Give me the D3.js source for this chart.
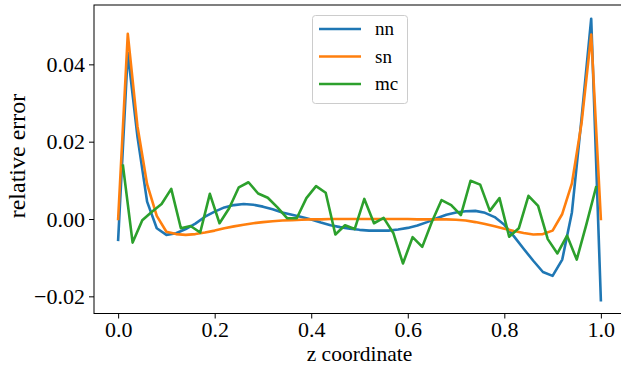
<!DOCTYPE html>
<html>
<head>
<meta charset="utf-8">
<script src="https://cdn.jsdelivr.net/npm/d3@7"></script>
<style>
  body { margin: 0; background: #fff; }
  svg text { font-family: "Liberation Serif", "Times New Roman", serif; fill: #000; }
</style>
</head>
<body>
<svg id="chart" width="621" height="368"></svg>
<script>
// node positions (0.02 grid) and cell centres for the mc samples
const zNodes = d3.range(51).map((i) => +(i * 0.02).toFixed(2));
const zCells = d3.range(50).map((i) => +(0.01 + i * 0.02).toFixed(2));

const nnValues = [
  -0.0054, 0.043, 0.0213, 0.0045, -0.0024, -0.0041, -0.0037, -0.0026, -0.0012, 0.0006,
  0.0019, 0.003, 0.0036, 0.0039, 0.0037, 0.0032, 0.0025, 0.0017, 0.0011, 0.0005,
  -0.0001, -0.0009, -0.0016, -0.0021, -0.0025, -0.0028, -0.003, -0.003, -0.003, -0.0027,
  -0.0023, -0.0017, -0.0008, 0.0002, 0.0011, 0.0017, 0.002, 0.0021, 0.0016, 0.0005,
  -0.0015, -0.0045, -0.0077, -0.0108, -0.0137, -0.0147, -0.0105, 0.0017, 0.026, 0.0518,
  -0.021,
];

const snValues = [
  0.0, 0.0479, 0.024, 0.009, 0.0008, -0.0033, -0.0039, -0.0041, -0.0039, -0.0035,
  -0.003, -0.0024, -0.0019, -0.0015, -0.0011, -0.0008, -0.0006, -0.0004, -0.0003, -0.0002,
  -0.0001, -0.0001, 0.0, 0.0, 0.0, 0.0, 0.0, 0.0, 0.0, 0.0,
  0.0, -0.0001, -0.0001, -0.0001, -0.0001, -0.0002, -0.0004, -0.0008, -0.0013, -0.0019,
  -0.0025, -0.0031, -0.0036, -0.004, -0.0039, -0.003, 0.0013, 0.0092, 0.0248, 0.0477,
  0.0,
];

const mcValues = [
  0.0138, -0.0061, -0.0003, 0.0019, 0.0039, 0.0078, -0.0024, -0.0018, -0.0035, 0.0065,
  -0.0011, 0.0028, 0.0082, 0.0095, 0.0066, 0.0055, 0.003, 0.0002, 0.0002, 0.0054,
  0.0085, 0.0068, -0.004, -0.0016, -0.0026, 0.0052, -0.0011, 0.0003, -0.0036, -0.0115,
  -0.0047, -0.0072, -0.0007, 0.0049, 0.0036, 0.001, 0.0099, 0.0089, 0.0021, 0.0054,
  -0.0046, -0.0024, 0.006, 0.0034, -0.0052, -0.0089, -0.0043, -0.0105, -0.0014, 0.0082,
];

const xTicks = [0, 0.2, 0.4, 0.6, 0.8, 1.0];
const yTicks = [-0.02, 0, 0.02, 0.04];

const series = [
  { name: 'nn', color: '#1f77b4', x: zNodes, y: nnValues },
  { name: 'sn', color: '#ff7f0e', x: zNodes, y: snValues },
  { name: 'mc', color: '#2ca02c', x: zCells, y: mcValues },
];

const serif = '"Liberation Serif", "Times New Roman", serif';
const svg = d3.select('#chart');
const margin = { top: 5, left: 94 };
const plotRight = 625;
const plotBottom = 313.5;

const xScale = d3.scaleLinear().domain([-0.05, 1.05]).range([margin.left, plotRight]);
const yScale = d3.scaleLinear().domain([-0.02444, 0.05535]).range([plotBottom, margin.top]);

const line = d3
  .line()
  .x((d) => xScale(d[0]))
  .y((d) => yScale(d[1]));

series.forEach((s) => {
  svg
    .append('path')
    .datum(d3.zip(s.x, s.y))
    .attr('fill', 'none')
    .attr('stroke', s.color)
    .attr('stroke-width', 2.6)
    .attr('stroke-linejoin', 'round')
    .attr('stroke-linecap', 'square')
    .attr('d', line);
});

// frame
svg
  .append('rect')
  .attr('x', margin.left)
  .attr('y', margin.top)
  .attr('width', plotRight - margin.left)
  .attr('height', plotBottom - margin.top)
  .attr('fill', 'none')
  .attr('stroke', '#000')
  .attr('stroke-width', 1);

const xAxis = svg
  .append('g')
  .attr('transform', 'translate(0,' + plotBottom + ')')
  .call(d3.axisBottom(xScale).tickValues(xTicks).tickFormat(d3.format('.1f')).tickSizeOuter(0).tickSize(5).tickPadding(3));

const yAxis = svg
  .append('g')
  .attr('transform', 'translate(' + margin.left + ',0)')
  .call(d3.axisLeft(yScale).tickValues(yTicks).tickFormat(d3.format('.2f')).tickSizeOuter(0).tickSize(5).tickPadding(4));

[xAxis, yAxis].forEach((ax) => {
  ax.select('.domain').remove();
  ax.attr('font-family', null).attr('font-size', null);
  ax.selectAll('text').style('font-family', serif).style('font-size', '22px').attr('fill', '#000');
  ax.selectAll('line').attr('stroke', '#000');
});

svg
  .append('text')
  .attr('x', (margin.left + plotRight) / 2)
  .attr('y', 361)
  .attr('text-anchor', 'middle')
  .style('font-size', '21.5px')
  .text('z coordinate');

svg
  .append('text')
  .attr('transform', 'translate(25,156) rotate(-90)')
  .attr('text-anchor', 'middle')
  .style('font-size', '24px')
  .text('relative error');

// legend
const legend = svg.append('g').attr('transform', 'translate(312,15)');
legend
  .append('rect')
  .attr('x', 0.5)
  .attr('y', 0.5)
  .attr('width', 95)
  .attr('height', 88)
  .attr('rx', 3)
  .attr('fill', '#fff')
  .attr('fill-opacity', 0.8)
  .attr('stroke', '#ccc');

series.forEach((s, i) => {
  const y = 14 + i * 27.5;
  legend
    .append('line')
    .attr('x1', 7)
    .attr('x2', 49)
    .attr('y1', y)
    .attr('y2', y)
    .attr('stroke', s.color)
    .attr('stroke-width', 2.6);
  legend
    .append('text')
    .attr('x', 63)
    .attr('y', y + 6)
    .style('font-size', '19px')
    .text(s.name);
});
</script>
</body>
</html>
